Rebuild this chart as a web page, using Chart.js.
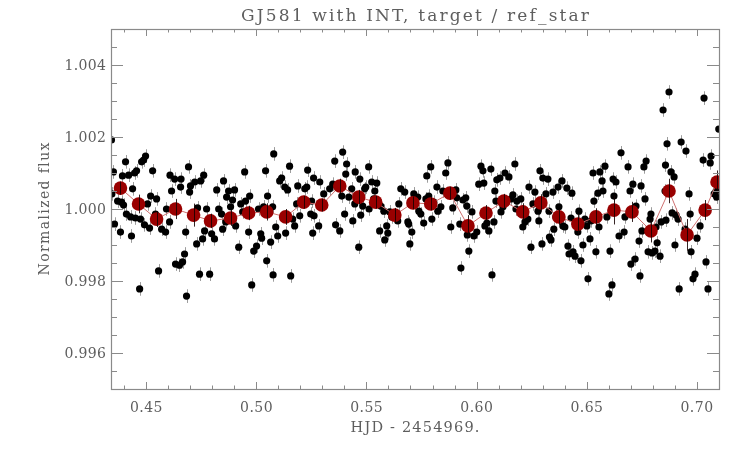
<!DOCTYPE html>
<html><head><meta charset="utf-8">
<script src="https://cdn.jsdelivr.net/npm/chart.js@4.4.1/dist/chart.umd.min.js"></script>
<style>html,body{margin:0;padding:0;background:#fff}canvas{display:block}</style>
</head><body>
<canvas id="c" width="747" height="449"></canvas>
<script>
const timeBlack=[0.4342,0.4344,0.4351,0.4356,0.4370,0.4383,0.4388,0.4392,0.4397,0.4406,0.4410,0.4420,0.4429,0.4433,0.4438,0.4447,0.4451,0.4456,0.4470,0.4474,
0.4479,0.4488,0.4492,0.4497,0.4506,0.4515,0.4520,0.4529,0.4542,0.4547,0.4556,0.4570,0.4588,0.4592,0.4606,0.4608,0.4615,0.4629,0.4633,0.4651,
0.4656,0.4658,0.4665,0.4674,0.4679,0.4683,0.4692,0.4697,0.4701,0.4720,0.4729,0.4733,0.4742,0.4747,0.4756,0.4761,0.4765,0.4774,0.4788,0.4797,
0.4810,0.4820,0.4829,0.4842,0.4847,0.4851,0.4861,0.4865,0.4874,0.4883,0.4892,0.4901,0.4906,0.4920,0.4929,0.4938,0.4947,0.4951,0.4965,0.4970,
0.4979,0.4988,0.5001,0.5010,0.5020,0.5024,0.5033,0.5042,0.5047,0.5051,0.5065,0.5074,0.5076,0.5079,0.5088,0.5097,0.5106,0.5115,0.5129,0.5133,
0.5142,0.5151,0.5156,0.5165,0.5174,0.5183,0.5188,0.5197,0.5220,0.5229,0.5233,0.5247,0.5251,0.5256,0.5260,0.5262,0.5283,0.5288,0.5306,0.5333,
0.5347,0.5356,0.5360,0.5379,0.5388,0.5392,0.5401,0.5406,0.5410,0.5420,0.5433,0.5438,0.5447,0.5449,0.5465,0.5470,0.5474,0.5483,0.5492,0.5497,
0.5510,0.5512,0.5524,0.5533,0.5538,0.5547,0.5560,0.5565,0.5579,0.5583,0.5592,0.5597,0.5606,0.5615,0.5638,0.5642,0.5647,0.5656,0.5674,0.5688,
0.5692,0.5697,0.5706,0.5715,0.5720,0.5733,0.5738,0.5747,0.5760,0.5770,0.5774,0.5783,0.5792,0.5797,0.5806,0.5820,0.5824,0.5838,0.5847,0.5860,
0.5870,0.5883,0.5892,0.5906,0.5910,0.5924,0.5929,0.5938,0.5951,0.5956,0.5958,0.5965,0.5979,0.5988,0.6001,0.6010,0.6020,0.6029,0.6033,0.6038,
0.6047,0.6056,0.6065,0.6070,0.6079,0.6083,0.6088,0.6092,0.6106,0.6111,0.6120,0.6129,0.6147,0.6156,0.6165,0.6174,0.6179,0.6183,0.6201,0.6210,
0.6220,0.6233,0.6238,0.6247,0.6256,0.6265,0.6279,0.6283,0.6288,0.6297,0.6301,0.6315,0.6324,0.6329,0.6331,0.6338,0.6347,0.6351,0.6360,0.6370,
0.6374,0.6388,0.6392,0.6401,0.6410,0.6415,0.6420,0.6429,0.6433,0.6438,0.6447,0.6460,0.6465,0.6474,0.6483,0.6492,0.6501,0.6506,0.6515,0.6520,
0.6529,0.6533,0.6542,0.6551,0.6556,0.6560,0.6570,0.6574,0.6583,0.6592,0.6601,0.6606,0.6615,0.6620,0.6624,0.6633,0.6647,0.6656,0.6670,0.6674,
0.6688,0.6697,0.6701,0.6710,0.6720,0.6724,0.6738,0.6742,0.6747,0.6751,0.6760,0.6765,0.6770,0.6779,0.6788,0.6792,0.6797,0.6810,0.6815,0.6820,
0.6833,0.6838,0.6847,0.6856,0.6858,0.6860,0.6865,0.6874,0.6883,0.6888,0.6897,0.6901,0.6906,0.6915,0.6920,0.6929,0.6947,0.6951,0.6965,0.6970,
0.6974,0.6983,0.6992,0.7001,0.7015,0.7029,0.7033,0.7042,0.7051,0.7061,0.7065,0.7079,0.7088,0.7090,0.7100];
const fluxBlack=[1.00192,1.00042,1.00103,0.99958,1.00022,0.99936,1.00019,1.00092,1.00011,1.00131,0.99986,1.00094,0.99978,0.99925,1.00056,1.00100,0.99975,1.00106,0.99778,0.99972,
1.00131,1.00136,0.99956,1.00147,1.00014,0.99947,1.00036,1.00106,0.99986,1.00028,0.99828,0.99944,0.99936,1.00000,0.99964,1.00094,1.00050,1.00083,0.99847,0.99844,
1.00061,1.00083,0.99853,0.99875,0.99936,0.99758,1.00117,1.00047,1.00064,1.00075,0.99903,1.00003,0.99819,1.00078,0.99917,1.00094,0.99939,1.00000,0.99819,0.99931,
0.99917,1.00053,1.00000,0.99986,0.99944,1.00078,0.99964,1.00033,1.00050,1.00006,1.00025,1.00053,0.99953,0.99894,1.00014,0.99992,1.00103,1.00022,0.99936,1.00036,
0.99789,0.99883,0.99897,1.00000,0.99931,0.99919,1.00006,1.00106,0.99856,1.00036,0.99908,1.00006,0.99817,1.00153,0.99950,0.99925,1.00078,1.00086,1.00061,0.99933,
1.00053,1.00119,0.99814,0.99972,0.99953,1.00014,1.00064,0.99981,1.00056,1.00061,1.00108,0.99986,1.00022,0.99933,1.00086,0.99981,0.99953,1.00075,1.00042,1.00056,
1.00069,1.00133,0.99956,0.99939,1.00036,1.00158,0.99986,1.00097,1.00125,1.00033,1.00056,0.99967,1.00014,1.00103,0.99894,1.00083,0.99983,1.00008,1.00056,1.00061,
1.00117,1.00000,1.00075,1.00028,1.00050,1.00072,0.99939,1.00008,0.99994,0.99914,0.99953,0.99933,0.99992,0.99978,0.99981,0.99967,1.00014,1.00056,1.00047,0.99964,
0.99958,0.99903,0.99936,1.00042,1.00014,1.00033,0.99994,0.99986,0.99961,1.00028,1.00092,1.00036,1.00117,0.99972,1.00019,1.00061,0.99994,1.00006,1.00050,1.00100,
1.00128,0.99950,1.00003,1.00053,1.00031,0.99958,0.99836,1.00025,1.00031,1.00008,0.99928,0.99883,0.99992,0.99925,0.99936,1.00069,1.00119,1.00106,1.00072,0.99953,
0.99961,0.99939,1.00111,0.99817,0.99964,1.00050,1.00022,1.00081,1.00086,0.99992,1.00006,1.00100,1.00089,1.00028,1.00039,1.00125,1.00000,1.00022,1.00028,0.99950,
0.99964,0.99972,1.00061,0.99894,1.00014,1.00047,0.99994,0.99967,1.00106,0.99903,1.00086,1.00042,1.00083,0.99994,0.99922,0.99914,1.00047,0.99944,0.99978,1.00061,
1.00006,1.00078,0.99953,0.99950,1.00058,0.99897,0.99875,0.99975,1.00044,0.99881,0.99869,0.99936,0.99994,0.99856,0.99900,0.99972,0.99953,0.99806,0.99917,0.99967,
1.00100,1.00022,0.99881,1.00044,0.99950,1.00103,1.00078,1.00050,1.00119,0.99978,0.99764,0.99883,0.99789,1.00083,1.00036,1.00075,0.99925,1.00156,0.99936,0.99978,
1.00117,1.00050,0.99847,1.00069,0.99861,1.00008,0.99911,0.99814,1.00064,0.99939,1.00117,1.00028,1.00133,0.99881,0.99972,0.99986,0.99878,0.99883,0.99950,0.99906,
0.99869,0.99964,1.00275,1.00050,1.00122,0.99969,1.00181,1.00325,1.00103,0.99989,1.00089,0.99900,0.99983,0.99972,0.99778,1.00186,0.99944,1.00161,1.00042,0.99986,
0.99881,0.99806,0.99819,0.99919,0.99953,1.00136,1.00308,0.99853,0.99778,1.00128,1.00147,1.00042,1.00050,1.00033,1.00222];
const errBlack=0.00019;
const timeBinned=[0.4383,0.4465,0.4547,0.4633,0.4715,0.4792,0.4883,0.4965,0.5047,0.5133,0.5215,0.5297,0.5379,0.5465,0.5542,0.5629,0.5711,
0.5792,0.5879,0.5961,0.6043,0.6124,0.6210,0.6292,0.6374,0.6460,0.6542,0.6624,0.6706,0.6792,0.6874,0.6956,0.7038,0.7092];
const fluxBinned=[1.00058,1.00014,0.99972,1.00000,0.99983,0.99967,0.99975,0.99989,0.99992,0.99978,1.00019,1.00011,1.00064,1.00033,1.00019,0.99983,1.00017,
1.00014,1.00044,0.99953,0.99989,1.00022,0.99992,1.00017,0.99978,0.99958,0.99978,0.99997,0.99992,0.99939,1.00050,0.99928,0.99997,1.00075];
const errBinned=[0.00018,0.00026,0.00022,0.00028,0.00032,0.00020,0.00022,0.00020,0.00024,0.00022,0.00018,0.00018,0.00020,0.00020,0.00018,0.00020,0.00018,
0.00018,0.00018,0.00030,0.00022,0.00020,0.00024,0.00024,0.00022,0.00028,0.00024,0.00040,0.00028,0.00032,0.00034,0.00044,0.00028,0.00032];
const xTickValues=[0.45,0.50,0.55,0.60,0.65,0.70];
const xTickLabels=['0.45','0.50','0.55','0.60','0.65','0.70'];
const yTickValues=[0.996,0.998,1.000,1.002,1.004];
const yTickLabels=['0.996','0.998','1.000','1.002','1.004'];
const titleText='GJ581 with INT, target / ref_star';
const xTitleText='HJD - 2454969.';
const yTitleText='Normalized flux';

const FONT="'DejaVu Serif', serif";
const TEXT='#5e5e5e', AXIS='#8a8a8a';

// draw text stretched by letter spacing to a given width
function fitText(ctx,text,cx,cy,size,width,align){
  ctx.font=size+'px '+FONT;
  ctx.letterSpacing='0px';
  const w=ctx.measureText(text).width;
  const sp=Math.max(0,(width-w)/text.length);
  ctx.letterSpacing=sp.toFixed(2)+'px';
  const W=ctx.measureText(text).width;
  ctx.textAlign='left';
  let x0=align==='right'?cx-W+sp:(align==='left'?cx:cx-(W-sp)/2);
  ctx.fillText(text,x0,cy);
  ctx.letterSpacing='0px';
}

const decor={
  id:'decor',
  beforeDatasetsDraw(chart){
    const {ctx,chartArea:a,scales:{x,y}}=chart;
    ctx.save();
    ctx.beginPath();ctx.rect(a.left,a.top,a.right-a.left,a.bottom-a.top);ctx.clip();
    ctx.strokeStyle='#9c9c9c';ctx.lineWidth=1;ctx.beginPath();
    timeBlack.forEach((t,i)=>{
      const px=Math.round(x.getPixelForValue(t))+0.5;
      ctx.moveTo(px,y.getPixelForValue(fluxBlack[i]+errBlack));
      ctx.lineTo(px,y.getPixelForValue(fluxBlack[i]-errBlack));
    });
    ctx.stroke();ctx.restore();
  },
  afterDatasetsDraw(chart){
    const {ctx,chartArea:a,scales:{x,y}}=chart;
    ctx.save();
    ctx.beginPath();ctx.rect(a.left,a.top,a.right-a.left,a.bottom-a.top);ctx.clip();
    ctx.strokeStyle='rgba(20,0,0,0.85)';ctx.lineWidth=1;ctx.beginPath();
    timeBinned.forEach((t,i)=>{
      const px=Math.round(x.getPixelForValue(t))+0.5;
      ctx.moveTo(px,y.getPixelForValue(fluxBinned[i]+errBinned[i]));
      ctx.lineTo(px,y.getPixelForValue(fluxBinned[i]-errBinned[i]));
    });
    ctx.stroke();ctx.restore();
  },
  afterDraw(chart){
    const {ctx,chartArea:a,scales:{x,y}}=chart;
    ctx.save();
    ctx.strokeStyle=AXIS;ctx.lineWidth=1.2;
    ctx.strokeRect(a.left+0.5,a.top+0.5,a.right-a.left,a.bottom-a.top);
    ctx.lineWidth=1;ctx.beginPath();
    for(let k=44;k<=71;k++){
      const v=k/100; if(v<x.min||v>x.max) continue;
      const major=(k%5===0); const len=major?7:3.5;
      const px=Math.round(x.getPixelForValue(v))+0.5;
      ctx.moveTo(px,a.bottom);ctx.lineTo(px,a.bottom-len);
      ctx.moveTo(px,a.top);ctx.lineTo(px,a.top+len);
    }
    for(let k=0;k<=20;k++){
      const v=0.995+k*0.0005; if(v<y.min-1e-9||v>y.max+1e-9) continue;
      const major=(k%4===2); const len=major?12:6;
      const py=Math.round(y.getPixelForValue(v))+0.5;
      ctx.moveTo(a.left,py);ctx.lineTo(a.left+len,py);
      ctx.moveTo(a.right,py);ctx.lineTo(a.right-len,py);
    }
    ctx.stroke();
    ctx.fillStyle=TEXT;
    ctx.textBaseline='alphabetic';
    xTickValues.forEach((v,i)=>fitText(ctx,xTickLabels[i],x.getPixelForValue(v),a.bottom+23,14,33,'center'));
    yTickValues.forEach((v,i)=>fitText(ctx,yTickLabels[i],a.left-5,y.getPixelForValue(v)+5,14,42,'right'));
    fitText(ctx,xTitleText,(a.left+a.right)/2,a.bottom+43,14.5,130,'center');
    ctx.save();ctx.translate(49,(a.top+a.bottom)/2);ctx.rotate(-Math.PI/2);
    fitText(ctx,yTitleText,0,0,14,134,'center');ctx.restore();
    fitText(ctx,titleText,(a.left+a.right)/2,21,17,350,'center');
    ctx.restore();
  }
};

new Chart(document.getElementById('c'),{
  type:'scatter',
  data:{datasets:[
    {data:timeBlack.map((t,i)=>({x:t,y:fluxBlack[i]})),pointRadius:3.6,pointHoverRadius:3.6,
     backgroundColor:'#000',borderWidth:0,pointBorderWidth:0,showLine:false,clip:0,order:2},
    {data:timeBinned.map((t,i)=>({x:t,y:fluxBinned[i]})),pointRadius:6.8,pointHoverRadius:6.8,
     pointBackgroundColor:'#990000',pointBorderWidth:0,borderColor:'#cf7070',borderWidth:1,
     showLine:true,tension:0,clip:0,order:1}
  ]},
  options:{
    responsive:false,animation:false,devicePixelRatio:1,
    layout:{padding:{left:111,right:28,top:29,bottom:60}},
    plugins:{legend:{display:false},tooltip:{enabled:false},title:{display:false}},
    scales:{
      x:{type:'linear',min:0.434,max:0.7101,display:false},
      y:{type:'linear',min:0.995,max:1.005,display:false}
    }
  },
  plugins:[decor]
});
</script>
</body></html>
